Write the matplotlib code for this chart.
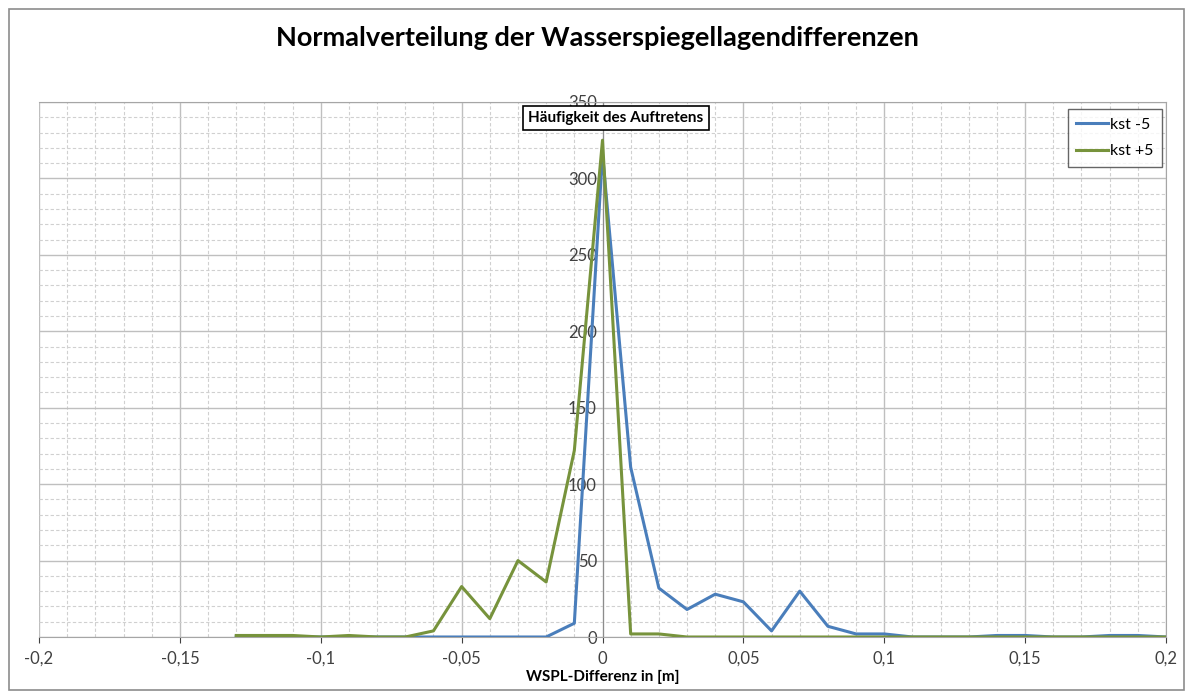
import matplotlib
matplotlib.use("Agg")
import matplotlib.pyplot as plt
from matplotlib.patches import Rectangle
from matplotlib.ticker import MultipleLocator, FuncFormatter

plt.rcParams['font.family'] = ['Lato', 'DejaVu Sans']

x_vals = [-0.13, -0.12, -0.11, -0.10, -0.09, -0.08, -0.07, -0.06, -0.05, -0.04,
          -0.03, -0.02, -0.01, 0.00, 0.01, 0.02, 0.03, 0.04, 0.05, 0.06,
          0.07, 0.08, 0.09, 0.10, 0.11, 0.12, 0.13, 0.14, 0.15, 0.16,
          0.17, 0.18, 0.19, 0.20]
kst_minus5 = [0, 0, 0, 0, 0, 0, 0, 0, 0, 0,
              0, 0, 9, 316, 111, 32, 18, 28, 23, 4,
              30, 7, 2, 2, 0, 0, 0, 1, 1, 0,
              0, 1, 1, 0]
kst_plus5 = [1, 1, 1, 0, 1, 0, 0, 4, 33, 12,
             50, 36, 122, 325, 2, 2, 0, 0, 0, 0,
             0, 0, 0, 0, 0, 0, 0, 0, 0, 0,
             0, 0, 0, 0]

title = "Normalverteilung der Wasserspiegellagendifferenzen"
y_label = "Häufigkeit des Auftretens"
x_label = "WSPL-Differenz in [m]"

fig = plt.figure(figsize=(11.88, 6.95), dpi=100)
fig.patch.set_facecolor('white')
# outer chart border
fig.add_artist(Rectangle((9/1188, 1 - 690/695), (1184-9)/1188, (690-9)/695,
                         transform=fig.transFigure, fill=False,
                         edgecolor='#8c8c8c', linewidth=1.2))

ax = fig.add_axes([39/1188, 58/695, (1166-39)/1188, (637-102)/695])
ax.set_xlim(-0.2, 0.2)
ax.set_ylim(0, 350)

ax.xaxis.set_major_locator(MultipleLocator(0.05))
ax.xaxis.set_minor_locator(MultipleLocator(0.01))
ax.yaxis.set_major_locator(MultipleLocator(50))
ax.yaxis.set_minor_locator(MultipleLocator(10))
ax.grid(which='major', color='#bfbfbf', linewidth=1.0)
ax.grid(which='minor', color='#d0d0d0', linewidth=0.8, linestyle=(0, (3, 2)))
ax.set_axisbelow(True)

for s in ['top', 'right', 'bottom']:
    ax.spines[s].set_color('#a6a6a6')
ax.spines['left'].set_position(('data', 0))
ax.spines['left'].set_color('#8c8c8c')

def comma(v, pos):
    if abs(v) < 1e-12:
        return '0'
    s = ('%.2f' % v).rstrip('0').rstrip('.')
    return s.replace('.', ',')

ax.xaxis.set_major_formatter(FuncFormatter(comma))
ax.yaxis.set_major_formatter(FuncFormatter(lambda v, p: '%d' % v))
ax.tick_params(axis='both', which='major', labelsize=12, colors='#404040',
               length=4, direction='out')
ax.tick_params(axis='both', which='minor', length=0)
ax.tick_params(axis='y', length=0, pad=4)
ax.tick_params(axis='x', pad=6)

ax.plot(x_vals, kst_minus5, color='#4a7ebb', linewidth=2.2, label='kst -5', zorder=3)
ax.plot(x_vals, kst_plus5, color='#77933c', linewidth=2.2, label='kst +5', zorder=4)

leg = ax.legend(loc='upper right', bbox_to_anchor=(1162/1188, 1 - 109/695),
                bbox_transform=fig.transFigure, fontsize=11.5,
                frameon=True, fancybox=False, edgecolor='#404040',
                handlelength=2.0, handletextpad=0.1, labelspacing=0.75,
                borderpad=0.55, borderaxespad=0)
leg.get_frame().set_linewidth(1.0)

fig.text(597/1188, 1 - 38/695, title, ha='center', va='center',
         fontsize=19.5, fontweight='bold', color='black')
fig.text(616/1188, 1 - 118/695, y_label, ha='center', va='center',
         fontsize=11, fontweight='bold', color='black',
         bbox=dict(boxstyle='square,pad=0.35', facecolor='white',
                   edgecolor='black', linewidth=1.2))
fig.text(603/1188, 1 - 677/695, x_label, ha='center', va='center',
         fontsize=11, fontweight='bold', color='black')

fig.savefig('out.png', dpi=100)
